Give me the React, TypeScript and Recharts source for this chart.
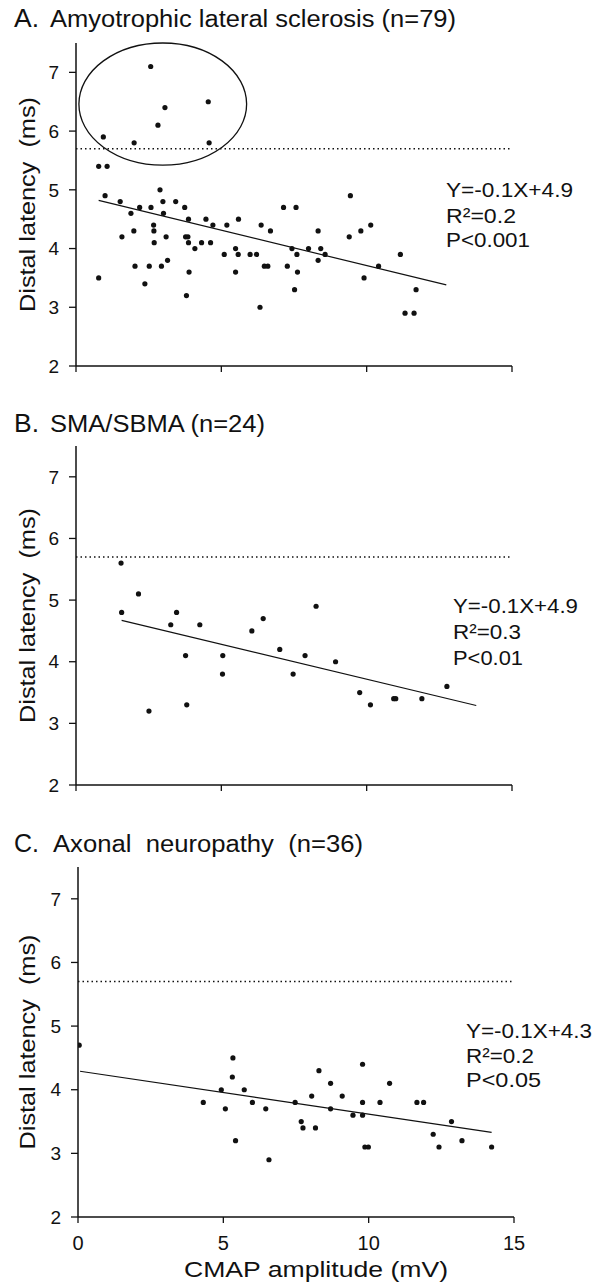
import React from 'react';
import { ScatterChart, Scatter, XAxis, YAxis, ReferenceLine, ReferenceArea } from 'recharts';

const FONT = '"Liberation Sans", Arial, Helvetica, sans-serif';
const INK = '#111';

// axis settings
const xDomain = [0, 15];
const yDomain = [2, 7.5];
const xTicks = [0, 5, 10, 15];
const yTicks = [2, 3, 4, 5, 6, 7];
const cutoffLatency = 5.7;

// Panel A: ALS (n=79)
const alsPoints = [
  { x: 0.94, y: 5.9 }, { x: 2.0, y: 5.8 }, { x: 2.57, y: 7.1 }, { x: 2.82, y: 6.1 }, { x: 3.06, y: 6.4 },
  { x: 4.55, y: 6.5 }, { x: 4.58, y: 5.8 },
  { x: 0.78, y: 5.4 }, { x: 1.07, y: 5.4 }, { x: 1.0, y: 4.9 }, { x: 2.89, y: 5.0 },
  { x: 1.52, y: 4.8 }, { x: 2.99, y: 4.8 }, { x: 3.43, y: 4.8 }, { x: 2.19, y: 4.7 }, { x: 2.58, y: 4.7 },
  { x: 3.74, y: 4.7 }, { x: 1.89, y: 4.6 }, { x: 3.01, y: 4.6 }, { x: 3.87, y: 4.5 }, { x: 4.47, y: 4.5 },
  { x: 5.59, y: 4.5 }, { x: 4.71, y: 4.4 }, { x: 5.19, y: 4.4 }, { x: 6.37, y: 4.4 }, { x: 2.67, y: 4.4 },
  { x: 2.68, y: 4.3 }, { x: 1.99, y: 4.3 }, { x: 6.69, y: 4.3 }, { x: 7.14, y: 4.7 }, { x: 7.57, y: 4.7 },
  { x: 1.58, y: 4.2 }, { x: 3.1, y: 4.2 }, { x: 3.77, y: 4.2 }, { x: 3.85, y: 4.2 }, { x: 2.69, y: 4.1 },
  { x: 3.87, y: 4.1 }, { x: 4.32, y: 4.1 }, { x: 4.63, y: 4.1 }, { x: 4.09, y: 4.0 }, { x: 5.49, y: 4.0 },
  { x: 7.43, y: 4.0 }, { x: 5.1, y: 3.9 }, { x: 5.58, y: 3.9 }, { x: 5.99, y: 3.9 }, { x: 6.21, y: 3.9 },
  { x: 7.6, y: 3.9 }, { x: 3.15, y: 3.8 }, { x: 2.03, y: 3.7 }, { x: 2.52, y: 3.7 }, { x: 2.94, y: 3.7 },
  { x: 6.48, y: 3.7 }, { x: 6.6, y: 3.7 }, { x: 7.27, y: 3.7 }, { x: 3.89, y: 3.6 }, { x: 5.49, y: 3.6 },
  { x: 7.62, y: 3.6 }, { x: 0.78, y: 3.5 }, { x: 2.37, y: 3.4 }, { x: 7.52, y: 3.3 }, { x: 3.8, y: 3.2 },
  { x: 6.33, y: 3.0 },
  { x: 9.44, y: 4.9 }, { x: 8.33, y: 4.3 }, { x: 9.4, y: 4.2 }, { x: 9.8, y: 4.3 }, { x: 10.14, y: 4.4 },
  { x: 8.0, y: 4.0 }, { x: 8.42, y: 4.0 }, { x: 8.57, y: 3.9 }, { x: 8.33, y: 3.8 }, { x: 10.41, y: 3.7 },
  { x: 11.16, y: 3.9 }, { x: 9.91, y: 3.5 }, { x: 11.7, y: 3.3 }, { x: 11.32, y: 2.9 }, { x: 11.63, y: 2.9 },
];
const alsFit = [{ x: 0.78, y: 4.82 }, { x: 12.74, y: 3.38 }];
const alsCircle = { x1: 0.1, x2: 5.87, y1: 5.42, y2: 7.5 };

// Panel B: SMA/SBMA (n=24)
const smaPoints = [
  { x: 1.55, y: 5.6 }, { x: 1.57, y: 4.8 }, { x: 2.15, y: 5.1 }, { x: 2.51, y: 3.2 }, { x: 3.26, y: 4.6 },
  { x: 3.46, y: 4.8 }, { x: 3.77, y: 4.1 }, { x: 3.81, y: 3.3 }, { x: 4.26, y: 4.6 }, { x: 5.05, y: 4.1 },
  { x: 5.04, y: 3.8 }, { x: 6.05, y: 4.5 }, { x: 6.44, y: 4.7 }, { x: 7.01, y: 4.2 }, { x: 7.47, y: 3.8 },
  { x: 7.88, y: 4.1 }, { x: 8.26, y: 4.9 }, { x: 8.93, y: 4.0 }, { x: 9.76, y: 3.5 }, { x: 10.13, y: 3.3 },
  { x: 10.93, y: 3.4 }, { x: 11.0, y: 3.4 }, { x: 11.9, y: 3.4 }, { x: 12.76, y: 3.6 },
];
const smaFit = [{ x: 1.57, y: 4.67 }, { x: 13.77, y: 3.29 }];

// Panel C: Axonal neuropathy (n=36)
const axonalPoints = [
  { x: 0.04, y: 4.7 }, { x: 4.31, y: 3.8 }, { x: 4.93, y: 4.0 }, { x: 5.07, y: 3.7 }, { x: 5.33, y: 4.5 },
  { x: 5.31, y: 4.2 }, { x: 5.42, y: 3.2 }, { x: 5.72, y: 4.0 }, { x: 6.0, y: 3.8 }, { x: 6.46, y: 3.7 },
  { x: 6.57, y: 2.9 }, { x: 7.47, y: 3.8 }, { x: 7.68, y: 3.5 }, { x: 7.74, y: 3.4 }, { x: 8.04, y: 3.9 },
  { x: 8.17, y: 3.4 }, { x: 8.29, y: 4.3 }, { x: 8.69, y: 4.1 }, { x: 8.69, y: 3.7 }, { x: 9.09, y: 3.9 },
  { x: 9.46, y: 3.6 }, { x: 9.79, y: 4.4 }, { x: 9.79, y: 3.8 }, { x: 9.79, y: 3.6 }, { x: 9.87, y: 3.1 },
  { x: 9.99, y: 3.1 }, { x: 10.39, y: 3.8 }, { x: 10.72, y: 4.1 }, { x: 11.66, y: 3.8 }, { x: 11.89, y: 3.8 },
  { x: 12.22, y: 3.3 }, { x: 12.42, y: 3.1 }, { x: 12.85, y: 3.5 }, { x: 13.21, y: 3.2 }, { x: 14.23, y: 3.1 },
];
const axonalFit = [{ x: 0.07, y: 4.29 }, { x: 14.23, y: 3.33 }];

// text
const yAxisLabel = 'Distal latency\u00A0 (ms)';
const xAxisLabel = 'CMAP amplitude (mV)';
const panelLetters = ['A.', 'B.', 'C.'];
const panelTitles = ['Amyotrophic lateral sclerosis (n=79)', 'SMA/SBMA (n=24)', 'Axonal\u00A0 neuropathy\u00A0 (n=36)'];
const equations = [
  ['Y=-0.1X+4.9', 'R\u00B2=0.2', 'P<0.001'],
  ['Y=-0.1X+4.9', 'R\u00B2=0.3', 'P<0.01'],
  ['Y=-0.1X+4.3', 'R\u00B2=0.2', 'P<0.05'],
];

const Dot = (props: any) => <circle cx={props.cx} cy={props.cy} r={2.6} fill={INK} />;
const NoDot = () => <g />;

const renderYLabel = (props: any) => {
  const vb = props.viewBox || {};
  const cx = 27;
  const cy = (vb.y ?? 0) + (vb.height ?? 0) / 2;
  return (
    <text
      x={cx}
      y={cy}
      transform={`rotate(-90 ${cx} ${cy})`}
      textAnchor="middle"
      dominantBaseline="central"
      fontSize={22}
      fontFamily={FONT}
      fill={INK}
      textLength={215}
      lengthAdjust="spacingAndGlyphs"
    >
      {yAxisLabel}
    </text>
  );
};

type PanelProps = {
  points: { x: number; y: number }[];
  fit: { x: number; y: number }[];
  circle?: { x1: number; x2: number; y1: number; y2: number };
  top: number;
  height: number;
  marginTop: number;
  marginBottom: number;
  marginLeft: number;
  marginRight: number;
  xAxisHeight: number;
  showXLabels: boolean;
};

function Panel({ points, fit, circle, top, height, marginTop, marginBottom, marginLeft, marginRight, xAxisHeight, showXLabels }: PanelProps) {
  return (
    <div style={{ position: 'absolute', left: 0, top, width: 594, height }}>
      <ScatterChart width={594} height={height} margin={{ top: marginTop, right: marginRight, bottom: marginBottom, left: marginLeft }}>
        <XAxis
          type="number"
          dataKey="x"
          domain={xDomain}
          ticks={xTicks}
          allowDataOverflow
          height={xAxisHeight}
          axisLine={{ stroke: INK, strokeWidth: 1.5 }}
          tickLine={{ stroke: INK, strokeWidth: 1.3 }}
          tickSize={6}
          tickMargin={13}
          tick={{ fontSize: 20, fill: INK, fontFamily: FONT }}
          tickFormatter={showXLabels ? (v: number) => String(v) : () => ''}
        />
        <YAxis
          type="number"
          dataKey="y"
          domain={yDomain}
          ticks={yTicks}
          allowDataOverflow
          width={30}
          axisLine={{ stroke: INK, strokeWidth: 1.5 }}
          tickLine={{ stroke: INK, strokeWidth: 1.3 }}
          tickSize={7}
          tickMargin={10}
          tick={{ fontSize: 19, fill: INK, fontFamily: FONT }}
          label={renderYLabel}
        />
        <ReferenceLine y={cutoffLatency} stroke={INK} strokeWidth={1.6} strokeDasharray="1.5 3" />
        {circle && (
          <ReferenceArea
            x1={circle.x1}
            x2={circle.x2}
            y1={circle.y1}
            y2={circle.y2}
            ifOverflow="visible"
            shape={(p: any) => (
              <ellipse
                cx={p.x + p.width / 2}
                cy={p.y + p.height / 2}
                rx={Math.abs(p.width) / 2}
                ry={Math.abs(p.height) / 2}
                fill="none"
                stroke={INK}
                strokeWidth={1.3}
              />
            )}
          />
        )}
        <Scatter data={points} shape={Dot} isAnimationActive={false} />
        <Scatter data={fit} shape={NoDot} line={{ stroke: INK, strokeWidth: 1.2 }} isAnimationActive={false} />
      </ScatterChart>
    </div>
  );
}

const titleBase = [27, 432, 852];
const titleLen = [406, 215, 310];
const eqX = [446, 453, 466];
const eqBase = [[197, 223, 247], [613, 639, 665], [1038, 1063, 1087]];
const eqLen = [[127, 70, 84], [125, 68, 70], [126, 68, 75]];

export default function App() {
  return (
    <div style={{ position: 'absolute', left: 0, top: 0, width: 594, height: 1282, background: '#fff', fontFamily: FONT }}>
      <Panel points={alsPoints} fit={alsFit} circle={alsCircle} top={0} height={400} marginTop={43} marginBottom={4} marginLeft={46} marginRight={82} xAxisHeight={30} showXLabels={false} />
      <Panel points={smaPoints} fit={smaFit} top={400} height={420} marginTop={46} marginBottom={5} marginLeft={46} marginRight={82} xAxisHeight={30} showXLabels={false} />
      <Panel points={axonalPoints} fit={axonalFit} top={820} height={462} marginTop={47} marginBottom={25} marginLeft={48} marginRight={80} xAxisHeight={40} showXLabels={true} />
      <svg width={594} height={1282} style={{ position: 'absolute', left: 0, top: 0, pointerEvents: 'none' }}>
        {panelLetters.map((l, i) => (
          <text key={'l' + i} x={14} y={titleBase[i]} fontSize={25} fontFamily={FONT} fill={INK} textLength={25} lengthAdjust="spacingAndGlyphs">{l}</text>
        ))}
        {panelTitles.map((t, i) => (
          <text key={'t' + i} x={i === 2 ? 53 : 50} y={titleBase[i]} fontSize={23} fontFamily={FONT} fill={INK} textLength={titleLen[i]} lengthAdjust="spacingAndGlyphs" style={{ whiteSpace: 'pre' }}>{t}</text>
        ))}
        {equations.map((lines, i) =>
          lines.map((s, j) => (
            <text key={'e' + i + j} x={eqX[i]} y={eqBase[i][j]} fontSize={21} fontFamily={FONT} fill={INK} textLength={eqLen[i][j]} lengthAdjust="spacingAndGlyphs">{s}</text>
          ))
        )}
        <text x={184} y={1277} fontSize={22} fontFamily={FONT} fill={INK} textLength={264} lengthAdjust="spacingAndGlyphs">{xAxisLabel}</text>
      </svg>
    </div>
  );
}
